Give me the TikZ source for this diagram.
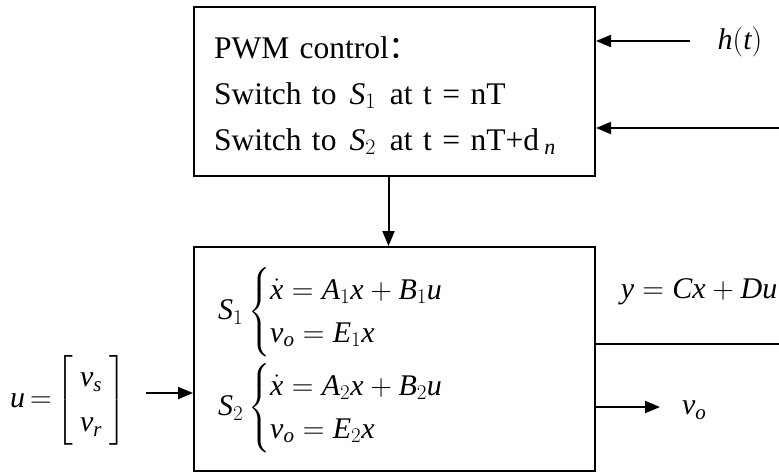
\RequirePackage{fix-cm}
\documentclass[tikz,border=0pt]{standalone}
\usepackage{amsmath}
\usepackage{fontspec}
\setmainfont{Liberation Serif}
\newfontfamily\cjk{Noto Sans CJK SC}
\DeclareSymbolFont{ltit}{TU}{\rmdefault}{m}{it}
\DeclareSymbolFont{ltrm}{TU}{\rmdefault}{m}{n}
\DeclareMathSymbol{A}{\mathalpha}{ltit}{`A}
\DeclareMathSymbol{B}{\mathalpha}{ltit}{`B}
\DeclareMathSymbol{C}{\mathalpha}{ltit}{`C}
\DeclareMathSymbol{D}{\mathalpha}{ltit}{`D}
\DeclareMathSymbol{E}{\mathalpha}{ltit}{`E}
\DeclareMathSymbol{S}{\mathalpha}{ltit}{`S}
\DeclareMathSymbol{h}{\mathalpha}{ltit}{`h}
\DeclareMathSymbol{n}{\mathalpha}{ltit}{`n}
\DeclareMathSymbol{o}{\mathalpha}{ltit}{`o}
\DeclareMathSymbol{r}{\mathalpha}{ltit}{`r}
\DeclareMathSymbol{s}{\mathalpha}{ltit}{`s}
\DeclareMathSymbol{t}{\mathalpha}{ltit}{`t}
\DeclareMathSymbol{u}{\mathalpha}{ltit}{`u}
\DeclareMathSymbol{v}{\mathalpha}{ltit}{`v}
\DeclareMathSymbol{x}{\mathalpha}{ltit}{`x}
\DeclareMathSymbol{y}{\mathalpha}{ltit}{`y}
\DeclareMathSymbol{1}{\mathalpha}{ltrm}{`1}
\DeclareMathSymbol{2}{\mathalpha}{ltrm}{`2}
\DeclareMathSymbol{(}{\mathopen}{ltrm}{`(}
\DeclareMathSymbol{)}{\mathclose}{ltrm}{`)}
\DeclareMathSymbol{=}{\mathrel}{ltrm}{`=}
\DeclareMathSymbol{+}{\mathbin}{ltrm}{`+}
\usetikzlibrary{arrows.meta}
\begin{document}
\begin{tikzpicture}[x=1pt,y=-1pt,
  line width=2pt,
  arr/.style={-{Triangle[length=15pt,width=12pt]}},
  box/.style={draw, line width=2pt, minimum width=401pt},
  big/.style={font=\fontsize{30}{36}\selectfont, inner sep=0pt}]
\useasboundingbox (0,0) rectangle (779,472);
% boxes
\node[box, minimum height=169pt, align=left, text width=361pt, inner xsep=20pt,
      font=\fontsize{31.5}{46}\selectfont] (pwm) at (394.5,91.5)
  {\rule{0pt}{30pt}PWM control{\cjk ：}\\
   Switch to\hspace{13pt}$S_1$\hspace{14pt}at t = nT\\
   Switch to\hspace{13pt}$S_2$\hspace{14pt}at t = nT+d\,$_{n}$};
\node[box, minimum height=224pt] (plant) at (394.5,359) {};
% plant equations
\node[big, anchor=west] (s1) at (217,312)
  {\def\arraystretch{1.05}$S_1\begin{cases}\dot x = A_1x+B_1u\\ v_o = E_1x\end{cases}$};
\node[big, anchor=west] (s2) at (217,408)
  {\def\arraystretch{1.05}$S_2\begin{cases}\dot x = A_2x+B_2u\\ v_o = E_2x\end{cases}$};
% input u
\node[big, anchor=west] (u) at (9,400)
  {\def\arraystretch{1.25}\thickmuskip=3mu$u=\begin{bmatrix}\hspace{7pt}v_s\hspace{7pt}\\ \hspace{7pt}v_r\hspace{7pt}\end{bmatrix}$};
\coordinate (uin) at (146,393);
\draw[arr] (uin) -- (uin -| plant.west);
% h(t) and d_n inputs
\node[big] (h) at (740,42) {$h(t)$};
\coordinate (hin) at (690,41);
\draw[arr] (hin) -- (hin -| pwm.east);
\coordinate (din) at (779,128);
\draw[arr] (din) -- (din -| pwm.east);
% pwm -> plant
\draw[arr] ([xshift=-6pt]pwm.south) -- ([xshift=-6pt]plant.north);
% outputs
\coordinate (yout) at (779,344);
\draw (plant.east |- yout) -- (yout);
\node[big] (yeq) at (699,292) {$y=Cx+Du$};
\coordinate (vout) at (660,407);
\draw[arr] (plant.east |- vout) -- (vout);
\node[big, anchor=west] (vo) at (681,410) {$v_o$};
\end{tikzpicture}
\end{document}
